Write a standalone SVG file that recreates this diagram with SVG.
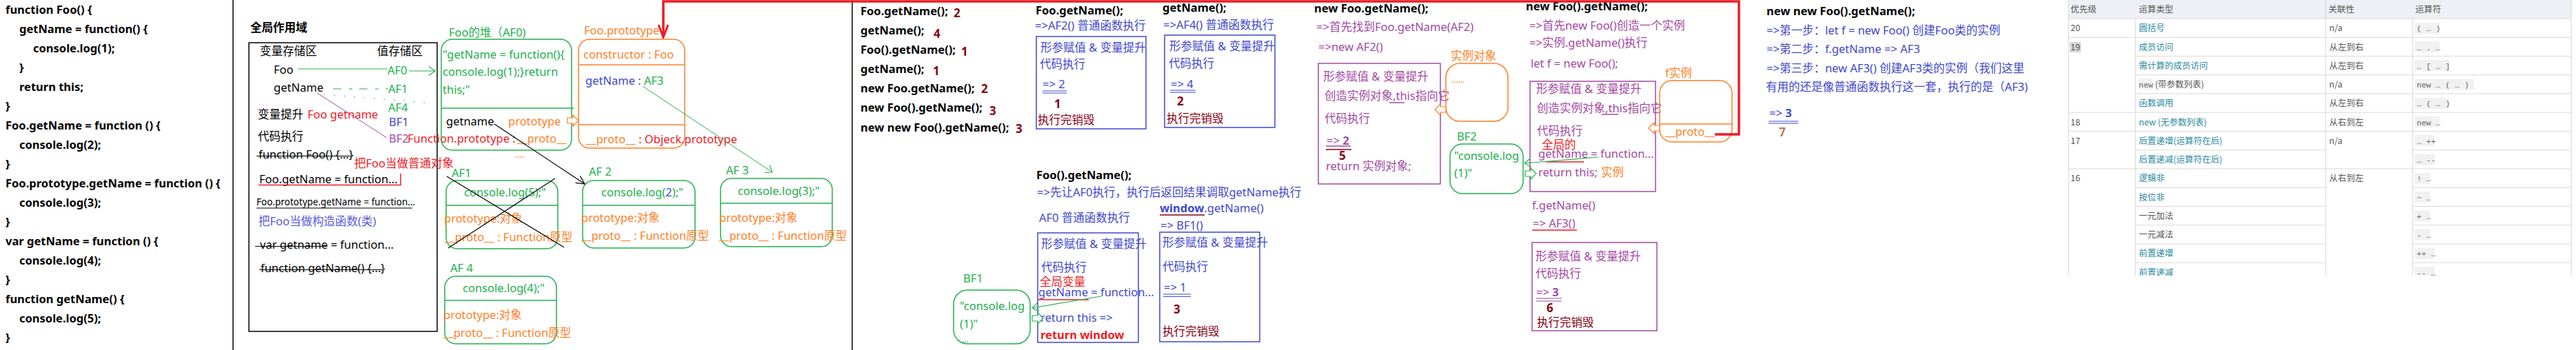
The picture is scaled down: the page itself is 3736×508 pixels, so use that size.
<svg xmlns="http://www.w3.org/2000/svg" width="3736" height="508" viewBox="0 0 3736 508">
<style>
text{font-family:"Noto Sans","Noto Sans CJK SC",sans-serif;font-size:16.5px}
.code{font-weight:bold;fill:#000}
.hd{font-weight:bold;fill:#000}
.num{font-weight:bold;font-size:17px;fill:#880015}
.g{fill:#22b14c}.o{fill:#ff7f27}.r{fill:#ed1c24}.b{fill:#3f48cc}.p{fill:#a349a4}.m{fill:#880015}.lb{fill:#5a5ae0}.br{fill:#b97a57}
.gb{fill:none;stroke:#22b14c;stroke-width:1.5}
.ob{fill:none;stroke:#ff7f27;stroke-width:1.5}
.bb{fill:none;stroke:#3f48cc;stroke-width:1.5}
.pb{fill:none;stroke:#a349a4;stroke-width:1.5}
.kl{fill:none;stroke:#000;stroke-width:1.2}
.gl{fill:none;stroke:#22b14c;stroke-width:1.2}
.rl{fill:none;stroke:#ed1c24;stroke-width:1.5}
.ml{fill:none;stroke:#880015;stroke-width:1.3}
.hw{fill:#fff;stroke-width:1.2}
.tb text{font-family:"Noto Sans CJK SC","Noto Sans",sans-serif;font-size:12.5px;fill:#555}
.tb .lk{fill:#2a8aa0}
.tb .op{font-family:"Liberation Mono",monospace;font-size:11.5px;fill:#666}
.grid{stroke:#dadada;stroke-width:1.2}
.cb{fill:#f1f1f1}
</style>
<defs>
<marker id="ag" viewBox="0 0 10 14" refX="9.5" refY="7" markerWidth="10" markerHeight="14" markerUnits="userSpaceOnUse" orient="auto-start-reverse"><path d="M0.5,0.5 L9.5,7 L0.5,13.5" fill="none" stroke="#22b14c" stroke-width="1.2"/></marker>
<marker id="ak" viewBox="0 0 14 14" refX="13" refY="7" markerWidth="14" markerHeight="14" markerUnits="userSpaceOnUse" orient="auto"><path d="M1,1 L13,7 L1,13" fill="none" stroke="#000" stroke-width="1.2"/></marker>
<marker id="ar" viewBox="0 0 22 16" refX="20" refY="8" markerWidth="22" markerHeight="16" markerUnits="userSpaceOnUse" orient="auto"><path d="M2,1 L20,8 L2,15" fill="none" stroke="#ed1c24" stroke-width="3"/></marker>
<path id="blk" d="M0,-4 H8 V-8 L16,0 L8,8 V4 H0 Z"/>
<clipPath id="tclip"><rect x="2990" y="0" width="746" height="400"/></clipPath>
</defs>
<rect width="3736" height="508" fill="#fff"/>

<g id="code-panel" class="code">
<text x="8" y="20">function Foo() {</text>
<text x="28" y="48">getName = function() {</text>
<text x="48" y="76">console.log(1);</text>
<text x="28" y="104">}</text>
<text x="28" y="132">return this;</text>
<text x="8" y="160">}</text>
<text x="8" y="188">Foo.getName = function () {</text>
<text x="28" y="216">console.log(2);</text>
<text x="8" y="244">}</text>
<text x="8" y="272">Foo.prototype.getName = function () {</text>
<text x="28" y="300">console.log(3);</text>
<text x="8" y="328">}</text>
<text x="8" y="356">var getName = function () {</text>
<text x="28" y="384">console.log(4);</text>
<text x="8" y="412">}</text>
<text x="8" y="440">function getName() {</text>
<text x="28" y="468">console.log(5);</text>
<text x="8" y="496">}</text>
</g>
<g id="separators" stroke="#000" stroke-width="1.5">
<line x1="338" y1="0" x2="338" y2="508"/>
<line x1="1236" y1="0" x2="1236" y2="508"/>
</g>

<g id="global-scope">
<text x="363" y="46" style="font-weight:bold">全局作用域</text>
<rect x="361" y="62" width="273" height="419" fill="none" stroke="#000" stroke-width="1.5"/>
<text x="377" y="80">变量存储区</text>
<text x="547" y="80">值存储区</text>
<text x="397" y="107">Foo</text>
<text x="397" y="133">getName</text>
<text x="374" y="172">变量提升</text>
<text x="446" y="172" class="r">Foo getname</text>
<text x="374" y="204">代码执行</text>
<text x="375" y="230">function Foo() {...}</text>
<line x1="372" y1="226.5" x2="512" y2="226.5" class="kl"/>
<text x="376" y="266">Foo.getName = function...</text>
<path d="M375,268.5 H581 V252" class="rl"/>
<text x="372" y="298" style="font-size:13.5px">Foo.prototype.getName = function...</text>
<line x1="372" y1="302" x2="598" y2="302" class="kl"/>
<text x="375" y="327" class="lb">把Foo当做构造函数(类)</text>
<text x="377" y="361">var getname = function...</text>
<line x1="370" y1="357.5" x2="475" y2="357.5" class="kl"/>
<text x="378" y="395">function getName() {...}</text>
<line x1="376" y1="391.5" x2="555" y2="391.5" class="kl"/>
<text x="562" y="108" class="g">AF0</text>
<text x="563" y="135" class="g">AF1</text>
<text x="563" y="162" class="g">AF4</text>
<text x="564" y="183" class="b">BF1</text>
<text x="564" y="207" class="p">BF2</text>
<text x="591" y="207" class="r">Function.prototype :</text>
<text x="514" y="243" class="r">把Foo当做普通对象</text>
</g>

<g id="af0-heap">
<text x="651" y="53" class="g">Foo的堆（AF0)</text>
<rect x="640" y="57" width="189" height="161" rx="16" class="gb"/>
<line x1="640" y1="157" x2="832" y2="157" class="gb"/>
<text x="642" y="85" class="g">"getName = function(){</text>
<text x="642" y="110" class="g">console.log(1);}return</text>
<text x="642" y="136" class="g">this;"</text>
<text x="647" y="182">getname</text>
<text x="737" y="182" class="o">prototype</text>
<text x="750" y="207" class="o">__proto__</text>
<text x="747" y="229" class="o" style="font-size:13px">....</text>
</g>

<g id="foo-prototype">
<text x="847" y="50" class="o">Foo.prototype</text>
<rect x="839" y="57" width="154" height="158" rx="16" class="ob"/>
<line x1="840" y1="94" x2="993" y2="94" class="ob"/>
<line x1="840" y1="181" x2="993" y2="181" class="ob"/>
<text x="846" y="85" class="o">constructor : Foo</text>
<text x="849" y="123" class="b">getName : <tspan class="g">AF3</tspan></text>
<text x="850" y="208" class="o">__proto__<tspan class="r"> : Objeck.prototype</tspan></text>
</g>

<g id="af1-heap">
<text x="655" y="257" class="g">AF1</text>
<rect x="647" y="262" width="162" height="99" rx="16" class="gb"/>
<line x1="647" y1="298" x2="809" y2="298" class="gb"/>
<text x="673" y="285" class="g">console.log(5);"</text>
<text x="644" y="323" class="o">prototype:对象</text>
<text x="645" y="350" class="o">__proto__ : Function原型</text>
<line x1="648" y1="256" x2="818" y2="359" class="kl"/>
<line x1="805" y1="259" x2="650" y2="360" class="kl"/>
</g>

<g id="af4-heap">
<text x="653" y="395" class="g">AF 4</text>
<rect x="645" y="401" width="162" height="98" rx="16" class="gb"/>
<line x1="645" y1="436" x2="807" y2="436" class="gb"/>
<text x="671" y="424" class="g">console.log(4);"</text>
<text x="643" y="463" class="o">prototype:对象</text>
<text x="643" y="489" class="o">__proto__ : Function原型</text>
</g>

<g id="af2-heap">
<text x="854" y="255" class="g">AF 2</text>
<rect x="845" y="262" width="163" height="98" rx="16" class="gb"/>
<line x1="845" y1="298" x2="1008" y2="298" class="gb"/>
<text x="872" y="285" class="g">console.log(<tspan class="b">2</tspan>);"</text>
<text x="843" y="322" class="o">prototype:对象</text>
<text x="843" y="348" class="o">__proto__ : Function原型</text>
</g>

<g id="af3-heap">
<text x="1053" y="253" class="g">AF 3</text>
<rect x="1045" y="259" width="162" height="99" rx="16" class="gb"/>
<line x1="1045" y1="295" x2="1207" y2="295" class="gb"/>
<text x="1070" y="283" class="g">console.log(3);"</text>
<text x="1043" y="322" class="o">prototype:对象</text>
<text x="1043" y="348" class="o">__proto__ : Function原型</text>
</g>

<g id="answers">
<text x="1248" y="22" class="hd">Foo.getName(); </text><text x="1383" y="25" class="num">2</text>
<text x="1248" y="50" class="hd">getName();</text><text x="1354" y="55" class="num">4</text>
<text x="1248" y="78" class="hd">Foo().getName();</text><text x="1394" y="81" class="num">1</text>
<text x="1248" y="106" class="hd">getName();</text><text x="1353" y="109" class="num">1</text>
<text x="1248" y="134" class="hd">new Foo.getName();</text><text x="1423" y="135" class="num">2</text>
<text x="1248" y="162" class="hd">new Foo().getName();</text><text x="1435" y="167" class="num">3</text>
<text x="1248" y="191" class="hd">new new Foo().getName();</text><text x="1473" y="193" class="num">3</text>
</g>

<g id="step-foo-getname">
<text x="1502" y="21" class="hd">Foo.getName();</text>
<text x="1501" y="43" class="b">=&gt;AF2() 普通函数执行</text>
<rect x="1503" y="53" width="159" height="134" class="bb"/>
<text x="1509" y="75" class="b">形参赋值 &amp; 变量提升</text>
<text x="1508" y="99" class="b">代码执行</text>
<text x="1512" y="128" class="b">=&gt; 2</text>
<path d="M1512,132H1547M1512,135H1547" stroke="#3f48cc" stroke-width="1"/>
<text x="1529" y="157" class="num">1</text>
<text x="1505" y="180" class="m">执行完销毁</text>
</g>

<g id="step-getname">
<text x="1686" y="17" class="hd">getName();</text>
<text x="1687" y="42" class="b">=&gt;AF4() 普通函数执行</text>
<rect x="1689" y="51" width="160" height="134" class="bb"/>
<text x="1696" y="73" class="b">形参赋值 &amp; 变量提升</text>
<text x="1695" y="98" class="b">代码执行</text>
<text x="1698" y="128" class="b">=&gt; 4</text>
<path d="M1697,131H1734M1697,134H1734" stroke="#3f48cc" stroke-width="1"/>
<text x="1707" y="153" class="num">2</text>
<text x="1692" y="178" class="m">执行完销毁</text>
</g>

<g id="step-foo-call">
<text x="1503" y="260" class="hd">Foo().getName();</text>
<text x="1504" y="285" class="b">=&gt;先让AF0执行，执行后返回结果调取getName执行</text>
<text x="1507" y="322" class="b">AF0 普通函数执行</text>
<rect x="1505" y="338" width="146" height="159" class="bb"/>
<text x="1510" y="360" class="b">形参赋值 &amp; 变量提升</text>
<text x="1510" y="394" class="b">代码执行</text>
<text x="1508" y="415" class="r">全局变量</text>
<text x="1506" y="430" class="b">getName = function...</text>
<line x1="1506" y1="435" x2="1579" y2="435" class="rl"/>
<text x="1509" y="467" class="b">return this =&gt;</text>
<text x="1509" y="492" class="r" style="font-weight:bold">return window</text>
</g>

<g id="bf1-heap">
<text x="1397" y="410" class="g">BF1</text>
<rect x="1383" y="421" width="111" height="78" rx="20" class="gb"/>
<text x="1392" y="450" class="g">"console.log</text>
<text x="1392" y="476" class="g">(1)"</text>
<text x="1395" y="497" class="g" style="font-size:12px">...</text>
</g>

<g id="step-window">
<text x="1682" y="308" class="b"><tspan font-weight="bold">window</tspan>.getName()</text>
<line x1="1682" y1="312" x2="1747" y2="312" class="ml"/>
<text x="1683" y="333" class="b">=&gt; BF1()</text>
<rect x="1682" y="337" width="145" height="159" class="bb"/>
<text x="1686" y="358" class="b">形参赋值 &amp; 变量提升</text>
<text x="1686" y="393" class="b">代码执行</text>
<text x="1688" y="423" class="b">=&gt; 1</text>
<path d="M1687,427H1727M1687,430.5H1727" stroke="#3f48cc" stroke-width="1"/>
<text x="1702" y="455" class="num">3</text>
<text x="1686" y="487" class="m">执行完销毁</text>
</g>

<g id="step-new-foo-getname">
<text x="1906" y="18" class="hd">new Foo.getName();</text>
<text x="1909" y="45" class="p">=&gt;首先找到Foo.getName(AF2)</text>
<text x="1912" y="74" class="p">=&gt;new AF2()</text>
<rect x="1912" y="92" width="177" height="175" class="pb"/>
<text x="1919" y="117" class="p">形参赋值 &amp; 变量提升</text>
<text x="1921" y="145" class="p">创造实例对象,this指向它</text>
<line x1="2015" y1="149" x2="2037" y2="149" stroke="#a349a4" stroke-width="1.5"/>
<text x="1921" y="178" class="p">代码执行</text>
<text x="1924" y="210" class="p">=&gt; <tspan font-weight="bold">2</tspan></text>
<line x1="1923" y1="212" x2="1959" y2="212" stroke="#a349a4" stroke-width="1.3"/>
<line x1="1923" y1="217" x2="1960" y2="217" class="ml"/>
<text x="1942" y="232" class="num">5</text>
<text x="1923" y="247" class="p">return 实例对象;</text>
</g>

<g id="instance-object">
<text x="2104" y="87" class="o">实例对象</text>
<rect x="2097" y="92" width="90" height="84" rx="20" class="ob"/>
<text x="2105" y="120" class="o" style="font-size:12px">......</text>
</g>

<g id="bf2-heap">
<text x="2113" y="204" class="g">BF2</text>
<rect x="2103" y="209" width="106" height="72" rx="18" class="gb"/>
<text x="2109" y="232" class="g">"console.log</text>
<text x="2109" y="257" class="g">(1)"</text>
</g>

<g id="step-new-foo-call">
<text x="2213" y="15" class="hd">new Foo().getName();</text>
<text x="2218" y="43" class="p">=&gt;首先new Foo()创造一个实例</text>
<text x="2218" y="68" class="p">=&gt;实例.getName()执行</text>
<text x="2220" y="98" class="p">let f = new Foo();</text>
<rect x="2219" y="118" width="182" height="160" class="pb"/>
<text x="2228" y="135" class="p">形参赋值 &amp; 变量提升</text>
<text x="2229" y="163" class="p">创造实例对象,this指向它</text>
<line x1="2323" y1="166" x2="2347" y2="166" stroke="#a349a4" stroke-width="1.5"/>
<text x="2229" y="196" class="p">代码执行</text>
<text x="2236" y="216" class="r">全局的</text>
<text x="2231" y="229" class="p">getName = function...</text>
<line x1="2242" y1="235" x2="2297" y2="235" class="rl"/>
<text x="2231" y="256" class="p">return this;</text>
<text x="2322" y="256" class="o">实例</text>
<text x="2222" y="304" class="p">f.getName()</text>
<text x="2223" y="330" class="p">=&gt; AF3()</text>
<line x1="2222" y1="334" x2="2287" y2="334" class="rl"/>
<rect x="2222" y="352" width="181" height="128" class="pb"/>
<text x="2227" y="378" class="p">形参赋值 &amp; 变量提升</text>
<text x="2227" y="403" class="p">代码执行</text>
<text x="2228" y="430" class="p">=&gt; <tspan font-weight="bold">3</tspan></text>
<path d="M2228,433H2265M2228,437H2265" stroke="#a349a4" stroke-width="1"/>
<text x="2243" y="453" class="num">6</text>
<text x="2229" y="474" class="m">执行完销毁</text>
</g>

<g id="f-instance">
<text x="2415" y="112" class="o">f实例</text>
<rect x="2407" y="117" width="105" height="89" rx="18" class="ob"/>
<line x1="2407" y1="180" x2="2513" y2="180" class="ob"/>
<text x="2415" y="197" class="o">__proto__</text>
</g>

<g id="step-new-new">
<text x="2562" y="22" class="hd">new new Foo().getName();</text>
<text x="2562" y="50" class="b">=&gt;第一步：let f = new Foo()  创建Foo类的实例</text>
<text x="2562" y="77" class="b">=&gt;第二步：f.getName =&gt; AF3</text>
<text x="2562" y="105" class="b">=&gt;第三步：new AF3() 创建AF3类的实例（我们这里</text>
<text x="2561" y="132" class="b">有用的还是像普通函数执行这一套，执行的是（AF3)</text>
<text x="2566" y="170" class="b">=&gt; <tspan font-weight="bold">3</tspan></text>
<path d="M2565,176H2608M2565,179H2608" stroke="#3f48cc" stroke-width="1"/>
<text x="2580" y="198" class="num br">7</text>
</g>

<g id="connectors">
<line x1="432" y1="100" x2="562" y2="100" class="gl"/>
<line x1="593" y1="103" x2="631" y2="103" class="gl" marker-end="url(#ag)"/>
<line x1="483" y1="129" x2="563" y2="129" class="gl" stroke-dasharray="12 11 5 10"/>
<line x1="470" y1="137" x2="628" y2="150" stroke="#3f9fa0" stroke-width="1.2" stroke-dasharray="1.5 13"/>
<line x1="460" y1="135" x2="561" y2="200" stroke="#a349a4" stroke-width="1"/>
<line x1="717" y1="180" x2="848" y2="267" class="kl" marker-end="url(#ak)"/>
<use href="#blk" x="823" y="175" class="hw" stroke="#ff7f27"/>
<line x1="932" y1="125" x2="1120" y2="250" stroke="#22b14c" stroke-width="1" marker-end="url(#ag)"/>
<polyline points="2487,195 2522,195 2522,2 962,2 962,54" fill="none" stroke="#ed1c24" stroke-width="3.5" marker-end="url(#ar)"/>
<line x1="1497" y1="447" x2="1597" y2="430" class="gl" marker-start="url(#ag)"/>
<use href="#blk" x="1497" y="462" class="hw" stroke="#22b14c"/>
<use href="#blk" transform="translate(2097,159) scale(-1,1)" class="hw" stroke="#ff7f27"/>
<line x1="2211" y1="237" x2="2318" y2="228" class="gl" marker-start="url(#ag)"/>
<use href="#blk" x="2212" y="252" class="hw" stroke="#22b14c"/>
<use href="#blk" transform="translate(2407,186) scale(-1,1)" class="hw" stroke="#ff7f27"/>
</g>

<g id="precedence-table" class="tb" clip-path="url(#tclip)">
<rect x="3000" y="0" width="729" height="27" fill="#eef0f6"/>
<g class="grid">
<line x1="3000" y1="0" x2="3000" y2="400"/>
<line x1="3097" y1="27" x2="3097" y2="400"/>
<line x1="3373" y1="0" x2="3373" y2="400"/>
<line x1="3499" y1="27" x2="3499" y2="400"/>
<line x1="3729" y1="0" x2="3729" y2="400"/>
<line x1="3000" y1="27" x2="3729" y2="27"/>
<line x1="3000" y1="54.25" x2="3729" y2="54.25"/>
<line x1="3097" y1="81.5" x2="3729" y2="81.5"/>
<line x1="3097" y1="108.75" x2="3729" y2="108.75"/>
<line x1="3097" y1="136" x2="3729" y2="136"/>
<line x1="3000" y1="163.25" x2="3729" y2="163.25"/>
<line x1="3000" y1="190.5" x2="3729" y2="190.5"/>
<line x1="3097" y1="217.75" x2="3373" y2="217.75"/>
<line x1="3499" y1="217.75" x2="3729" y2="217.75"/>
<line x1="3000" y1="245" x2="3729" y2="245"/>
<line x1="3097" y1="272.25" x2="3373" y2="272.25"/>
<line x1="3499" y1="272.25" x2="3729" y2="272.25"/>
<line x1="3097" y1="299.5" x2="3373" y2="299.5"/>
<line x1="3499" y1="299.5" x2="3729" y2="299.5"/>
<line x1="3097" y1="326.75" x2="3373" y2="326.75"/>
<line x1="3499" y1="326.75" x2="3729" y2="326.75"/>
<line x1="3097" y1="354" x2="3373" y2="354"/>
<line x1="3499" y1="354" x2="3729" y2="354"/>
<line x1="3097" y1="381.25" x2="3373" y2="381.25"/>
<line x1="3499" y1="381.25" x2="3729" y2="381.25"/>
</g>
<text x="3003" y="18">优先级</text>
<text x="3102" y="18">运算类型</text>
<text x="3377" y="18">关联性</text>
<text x="3503" y="18">运算符</text>
<rect x="3002" y="61" width="16" height="15" fill="#d6d6d6"/>
<text x="3003" y="45">20</text>
<text x="3003" y="72.5">19</text>
<text x="3003" y="181.5">18</text>
<text x="3003" y="208.5">17</text>
<text x="3003" y="263">16</text>
<text x="3102" y="45" class="lk">圆括号</text>
<text x="3102" y="72.5" class="lk">成员访问</text>
<text x="3102" y="99.5" class="lk">需计算的成员访问</text>
<rect x="3101" y="114" width="21" height="16" class="cb"/>
<text x="3102" y="127"><tspan class="op">new</tspan> (带参数列表)</text>
<text x="3102" y="154" class="lk">函数调用</text>
<text x="3102" y="181.5" class="lk">new (无参数列表)</text>
<text x="3102" y="208.5" class="lk">后置递增(运算符在后)</text>
<text x="3102" y="236" class="lk">后置递减(运算符在后)</text>
<text x="3102" y="263" class="lk">逻辑非</text>
<text x="3102" y="290.5" class="lk">按位非</text>
<text x="3102" y="317.5">一元加法</text>
<text x="3102" y="345">一元减法</text>
<text x="3102" y="372" class="lk">前置递增</text>
<text x="3102" y="399.5" class="lk">前置递减</text>
<text x="3378" y="45">n/a</text>
<text x="3378" y="72.5">从左到右</text>
<text x="3378" y="99.5">从左到右</text>
<text x="3378" y="127">n/a</text>
<text x="3378" y="154">从左到右</text>
<text x="3378" y="181.5">从右到左</text>
<text x="3378" y="208.5">n/a</text>
<text x="3378" y="263">从右到左</text>
<rect x="3502" y="33" width="36" height="16" class="cb"/>
<text x="3505" y="45" class="op">( … )</text>
<rect x="3502" y="60" width="36" height="16" class="cb"/>
<text x="3505" y="72.5" class="op">… . …</text>
<rect x="3502" y="87" width="50" height="16" class="cb"/>
<text x="3505" y="99.5" class="op">… [ … ]</text>
<rect x="3502" y="114.5" width="86" height="16" class="cb"/>
<text x="3505" y="127" class="op">new … ( … )</text>
<rect x="3502" y="142" width="50" height="16" class="cb"/>
<text x="3505" y="154" class="op">… ( … )</text>
<rect x="3502" y="169" width="36" height="16" class="cb"/>
<text x="3505" y="181.5" class="op">new …</text>
<rect x="3502" y="196" width="29" height="16" class="cb"/>
<text x="3505" y="208.5" class="op">… ++</text>
<rect x="3502" y="223.5" width="29" height="16" class="cb"/>
<text x="3505" y="236" class="op">… --</text>
<rect x="3502" y="251" width="22" height="16" class="cb"/>
<text x="3505" y="263" class="op">! …</text>
<rect x="3502" y="278" width="22" height="16" class="cb"/>
<text x="3505" y="290.5" class="op">~ …</text>
<rect x="3502" y="305.5" width="22" height="16" class="cb"/>
<text x="3505" y="317.5" class="op">+ …</text>
<rect x="3502" y="332.5" width="22" height="16" class="cb"/>
<text x="3505" y="345" class="op">- …</text>
<rect x="3502" y="360" width="29" height="16" class="cb"/>
<text x="3505" y="372" class="op">++ …</text>
<rect x="3502" y="387" width="29" height="16" class="cb"/>
<text x="3505" y="399.5" class="op">-- …</text>
</g>
</svg>
